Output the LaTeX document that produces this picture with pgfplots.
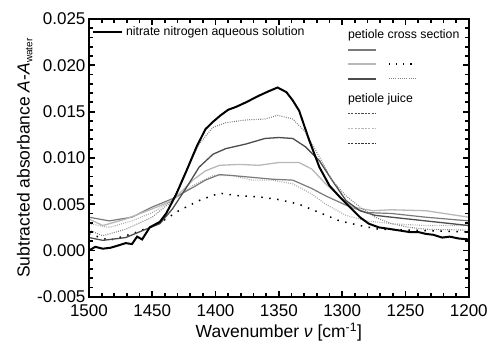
\documentclass[border=0pt]{standalone}
\usepackage{pgfplots}
\pgfplotsset{compat=1.18}
\usepackage{pgfplotstable}
\usepackage{fontspec}
\setmainfont{Liberation Sans}

% Subtracted absorbance spectra (wavenumber in cm^-1, absorbance)
\pgfplotstableread{
x y
1500 0.0000
1495 0.0004
1489 0.0002
1483 0.0003
1478 0.0005
1471 0.0008
1466 0.0007
1462 0.0015
1458 0.0012
1452 0.0025
1444 0.0031
1439 0.0040
1431 0.0061
1423 0.0086
1415 0.0112
1408 0.0131
1402 0.0139
1396 0.0146
1390 0.0152
1384 0.0155
1376 0.0160
1366 0.0167
1358 0.0172
1351 0.0176
1344 0.0171
1339 0.0162
1334 0.0151
1326 0.0119
1318 0.0090
1310 0.0070
1302 0.0058
1294 0.0047
1286 0.0036
1279 0.0029
1271 0.0025
1261 0.0023
1247 0.0020
1240 0.0020
1234 0.0018
1228 0.0017
1221 0.0014
1215 0.0015
1208 0.0013
1200 0.0012
}\nitrate

\pgfplotstableread{
x y
1500 0.0022
1489 0.0016
1471 0.0023
1450 0.0036
1434 0.0054
1423 0.0086
1413 0.0115
1402 0.0133
1392 0.0138
1376 0.0141
1361 0.0142
1351 0.0146
1339 0.0142
1329 0.0128
1318 0.0101
1308 0.0076
1297 0.0059
1286 0.0047
1274 0.0036
1261 0.0029
1247 0.0025
1234 0.0023
1200 0.0022
}\crossdotfine

\pgfplotstableread{
x y
1500 0.0014
1489 0.0011
1471 0.0014
1455 0.0023
1444 0.0029
1434 0.0045
1423 0.0068
1413 0.0090
1402 0.0104
1392 0.0110
1376 0.0115
1361 0.0121
1350 0.0122
1339 0.0121
1329 0.0112
1318 0.0097
1308 0.0076
1297 0.0054
1286 0.0043
1274 0.0038
1261 0.0036
1234 0.0032
1200 0.0027
}\crossdark

\pgfplotstableread{
x y
1500 0.0034
1489 0.0027
1471 0.0034
1450 0.0045
1434 0.0054
1418 0.0076
1408 0.0086
1397 0.0092
1381 0.0093
1366 0.0092
1350 0.0095
1334 0.0095
1324 0.0088
1313 0.0072
1302 0.0058
1292 0.0047
1276 0.0043
1261 0.0044
1234 0.0043
1200 0.0036
}\crosslight

\pgfplotstableread{
x y
1500 0.0036
1484 0.0032
1466 0.0036
1450 0.0047
1434 0.0056
1418 0.0068
1408 0.0076
1397 0.0082
1387 0.0081
1371 0.0079
1355 0.0077
1339 0.0076
1324 0.0067
1313 0.0059
1297 0.0049
1281 0.0041
1261 0.0040
1234 0.0036
1200 0.0032
}\crossmid

\pgfplotstableread{
x y
1500 0.0029
1484 0.0025
1466 0.0032
1450 0.0041
1434 0.0054
1418 0.0070
1402 0.0081
1387 0.0081
1371 0.0076
1355 0.0076
1339 0.0072
1324 0.0061
1313 0.0050
1297 0.0038
1281 0.0032
1261 0.0029
1234 0.0027
1200 0.0027
}\crosslightdot

\pgfplotstableread{
x y
1500 0.0018
1484 0.0011
1466 0.0018
1445 0.0029
1429 0.0043
1413 0.0054
1397 0.0062
1381 0.0059
1366 0.0058
1350 0.0055
1334 0.0050
1318 0.0041
1302 0.0032
1286 0.0027
1271 0.0023
1247 0.0022
1200 0.0020
}\crossblackdot

\definecolor{gdark}{gray}{0.30}
\definecolor{gmid}{gray}{0.48}
\definecolor{glight}{gray}{0.72}
\definecolor{gdot}{gray}{0.50}
\definecolor{gdotlight}{gray}{0.65}

\begin{document}
\begin{tikzpicture}
\begin{axis}[
  scale only axis,
  width=380pt, height=278pt,
  at={(0,0)}, anchor=south west,
  x dir=reverse,
  xmin=1200, xmax=1500,
  ymin=-0.005, ymax=0.025,
  xtick={1200,1250,...,1500},
  ytick={-0.005,0,0.005,0.010,0.015,0.020,0.025},
  minor x tick num=4,
  minor y tick num=4,
  tick align=inside,
  xtick pos=both, ytick pos=both,
  major tick length=6pt, minor tick length=4pt,
  axis line style={black, line width=2.2pt},
  every tick/.append style={black, line width=1.8pt},
  scaled y ticks=false,
  /pgf/number format/assume math mode=true,
  yticklabel={\pgfmathprintnumber[fixed, fixed zerofill, precision=3]{\tick}},
  xticklabel={\pgfmathprintnumber[fixed, precision=0, set thousands separator={}]{\tick}},
  xticklabel style={yshift=-4pt},
  tick label style={font=\fontsize{17}{20}\selectfont},
  label style={font=\fontsize{17.5}{20}\selectfont},
  xlabel={Wavenumber \textit{ν} [cm\textsuperscript{-1}]},
  ylabel={Subtracted absorbance \textit{A}-\textit{A}\textsubscript{\fontsize{10}{10}\selectfont water}},
  ylabel style={yshift=-2pt},
  clip=true,
]
\addplot[gdotlight, line width=1.1pt, dash pattern=on 0.9pt off 1.3pt] table {\crosslightdot};
\addplot[gmid, line width=1.2pt] table {\crossmid};
\addplot[black, line width=1.5pt, dash pattern=on 1.5pt off 6.5pt] table {\crossblackdot};
\addplot[glight, line width=1.3pt] table {\crosslight};
\addplot[gdark, line width=1.3pt] table {\crossdark};
\addplot[gdot, line width=1.1pt, dash pattern=on 0.9pt off 1.3pt] table {\crossdotfine};
\addplot[black, line width=2pt] table {\nitrate};
\end{axis}
% frame with inward ticks: 10 cm^-1 (12.667pt) and 0.001 (9.2667pt) steps
\foreach \i in {0,...,30}{
  \pgfmathsetmacro\len{ifthenelse(mod(\i,5)==0,6,4)}
  \draw[black, line width=1.8pt] (\i*12.6667pt,0pt) -- ++(0pt,\len pt);
  \draw[black, line width=1.8pt] (\i*12.6667pt,278pt) -- ++(0pt,-\len pt);
  \draw[black, line width=1.8pt] (0pt,\i*9.2667pt) -- ++(\len pt,0pt);
  \draw[black, line width=1.8pt] (380pt,\i*9.2667pt) -- ++(-\len pt,0pt);
}
\draw[black, line width=2.2pt] (0pt,0pt) rectangle (380pt,278pt);
% legend
\begin{scope}[font=\fontsize{12.3}{14}\selectfont]
\draw[black, line width=2pt] (4pt,265pt) -- (33pt,265pt);
\node[anchor=west, inner sep=0pt] at (37pt,265pt) {nitrate nitrogen aqueous solution};
\node[anchor=west, inner sep=0pt] at (259pt,262pt) {petiole cross section};
\draw[gmid, line width=1.2pt] (259pt,247pt) -- (287pt,247pt);
\draw[glight, line width=1.3pt] (259pt,233pt) -- (287pt,233pt);
\draw[black, line width=1.3pt, dash pattern=on 1.2pt off 6pt] (300pt,233pt) -- (325pt,233pt);
\draw[gdark, line width=1.3pt] (259pt,218pt) -- (287pt,218pt);
\draw[gdot, line width=1pt, dash pattern=on 0.9pt off 1.3pt] (300pt,218pt) -- (327pt,218pt);
\node[anchor=west, inner sep=0pt] at (259pt,198pt) {petiole juice};
\draw[gdark, line width=0.9pt, dash pattern=on 2.2pt off 1.2pt] (259pt,183pt) -- (287pt,183pt);
\draw[glight, line width=0.9pt, dash pattern=on 2.2pt off 1.2pt] (259pt,168pt) -- (287pt,168pt);
\draw[black!80, line width=0.9pt, dash pattern=on 2.2pt off 1.2pt] (259pt,153pt) -- (287pt,153pt);
\end{scope}
\path (-89pt,-50pt) rectangle (402pt,297pt);
\end{tikzpicture}
\end{document}
